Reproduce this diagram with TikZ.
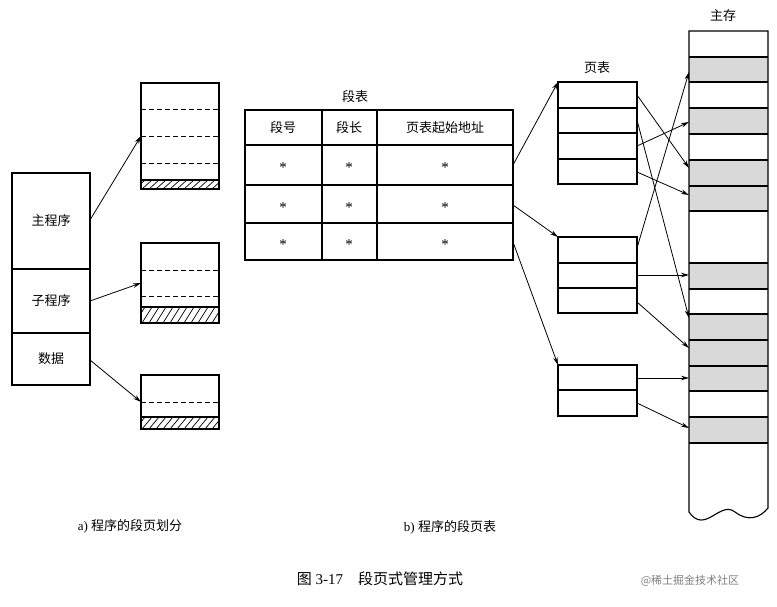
\documentclass[tikz,border=0pt]{standalone}
\usepackage{fontspec}
\setmainfont{Liberation Serif}
\newfontfamily\cjk{Noto Sans CJK SC}
\usetikzlibrary{arrows.meta}
\begin{document}
\begin{tikzpicture}[x=1pt,y=-1pt,line width=1.1pt,
  arr/.style={-{Stealth[length=8pt,width=4.5pt]},line width=0.8pt},
  dsh/.style={dashed,dash pattern=on 5pt off 3pt,line width=0.9pt},
  lbl/.style={font=\cjk\fontsize{13}{13}\selectfont,inner sep=0pt},
  star/.style={font=\fontsize{15}{15}\selectfont,inner sep=0pt},
  shade/.style={fill=black!15}]
\useasboundingbox (0,0) rectangle (777,607);
\fill[white] (0,0) rectangle (777,607);
% program
\draw (12,173) rectangle (90,385);
\draw (12,269)--(90,269) (12,333)--(90,333);
\node[lbl] (mp) at (51,221) {主程序};
\node[lbl] (sp) at (51,301) {子程序};
\node[lbl] (dt) at (51,359) {数据};
\coordinate (mpR) at (90,220); \coordinate (spR) at (90,301); \coordinate (dtR) at (90,360);
% segment boxes
\newcommand\hatchbox[2]{%
  \begin{scope}\clip (141,#1) rectangle (219,#2);
  \foreach \i in {0,...,14}{\draw[line width=0.7pt] (135+\i*7,#2)--(145+\i*7,#1);}
  \end{scope}\draw (141,#1)--(219,#1);}
\draw (141,83) rectangle (219,189);
\draw[dsh] (141,109)--(219,109) (141,136)--(219,136) (141,163)--(219,163);
\hatchbox{180}{189}
\draw (141,243) rectangle (219,323);
\draw[dsh] (141,270)--(219,270) (141,296)--(219,296);
\hatchbox{307}{323}
\draw (141,375) rectangle (219,429);
\draw[dsh] (141,402)--(219,402);
\hatchbox{417}{429}
\coordinate (b1) at (141,136); \coordinate (b2) at (141,283); \coordinate (b3) at (141,402);
\draw[arr] (mpR)--(b1); \draw[arr] (spR)--(b2); \draw[arr] (dtR)--(b3);
% segment table
\node[lbl] (st) at (355,97) {段表};
\draw (245,110) rectangle (513,260);
\draw (245,145)--(513,145) (245,185)--(513,185) (245,223)--(513,223);
\draw (322,110)--(322,260) (377,110)--(377,260);
\node[lbl] at (283,128) {段号};
\node[lbl] at (349,128) {段长};
\node[lbl] at (445,128) {页表起始地址};
\foreach \y in {168,208,245}{
  \node[star] at (283,\y) {*};\node[star] at (349,\y) {*};\node[star] at (445,\y) {*};}
\coordinate (s1) at (513,165); \coordinate (s2) at (513,205); \coordinate (s3) at (513,242);
% page tables
\node[lbl] at (597,68) {页表};
\draw (558,82) rectangle (637,184); \draw (558,108)--(637,108) (558,133)--(637,133) (558,159)--(637,159);
\draw (558,237) rectangle (637,313); \draw (558,263)--(637,263) (558,288)--(637,288);
\draw (558,365) rectangle (637,416); \draw (558,390)--(637,390);
\coordinate (p1) at (558,82); \coordinate (p2) at (558,237); \coordinate (p3) at (558,365);
\draw[arr] (s1)--(p1); \draw[arr] (s2)--(p2); \draw[arr] (s3)--(p3);
% main memory
\node[lbl] at (723,16) {主存};
\foreach \a/\b in {57/82,108/134,160/186,186/211,263/289,314/340,340/366,366/391,417/443}
  \fill[shade] (689,\a) rectangle (768,\b);
\draw (689,31)--(689,512) .. controls (705,535) and (720,500) .. (735,512) .. controls (748,522) and (760,518) .. (768,508) -- (768,31) -- cycle;
\foreach \y in {57,82,108,134,160,186,211,263,289,314,340,366,391,417,443}
  \draw (689,\y)--(768,\y);
% page arrows
\draw[arr] (637,95)--(689,168);
\draw[arr] (637,120)--(689,318);
\draw[arr] (637,146)--(689,122);
\draw[arr] (637,172)--(689,195);
\draw[arr] (637,248)--(689,72);
\draw[arr] (637,275)--(689,275);
\draw[arr] (637,302)--(689,348);
\draw[arr] (637,378)--(689,378);
\draw[arr] (637,403)--(689,428);
% captions
\node[font=\fontsize{13}{13}\selectfont,inner sep=0pt] at (130,526) {a) {\cjk 程序的段页划分}};
\node[font=\fontsize{13}{13}\selectfont,inner sep=0pt] at (450,527) {b) {\cjk 程序的段页表}};
\node[font=\fontsize{15}{15}\selectfont,inner sep=0pt] at (380,579) {{\cjk 图} 3-17\quad{\cjk 段页式管理方式}};
\node[font=\cjk\fontsize{11}{11}\selectfont,text=black!50,inner sep=0pt] at (690,581) {@稀土掘金技术社区};
\end{tikzpicture}
\end{document}
